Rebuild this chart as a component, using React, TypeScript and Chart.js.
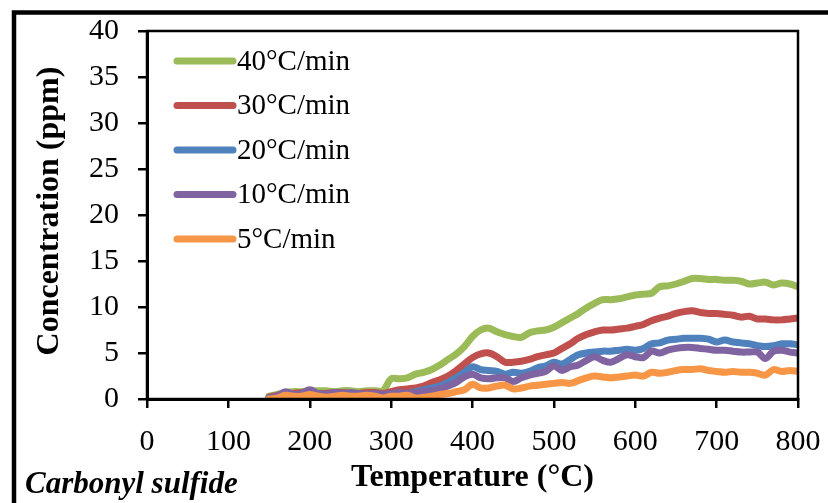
import React, { useEffect, useRef } from "react";
import { Chart, registerables } from "chart.js";

Chart.register(...registerables);

const TEMPS = [
  150, 160, 170, 180, 190, 200, 210, 220, 230, 240, 250, 260, 270, 280, 290, 300, 310, 320, 330, 340,
  350, 360, 370, 380, 390, 400, 410, 420, 430, 440, 450, 460, 470, 480, 490, 500, 510, 520, 530, 540,
  550, 560, 570, 580, 590, 600, 610, 620, 630, 640, 650, 660, 670, 680, 690, 700, 710, 720, 730, 740,
  750, 760, 770, 780, 790, 800,
];

const RATE_40 = [
  0.3, 0.5, 0.7, 0.8, 0.8, 0.9, 0.9, 0.9, 0.8, 0.9, 0.9, 0.8, 0.9, 0.9, 0.9, 2.2, 2.2, 2.3, 2.7, 2.9,
  3.2, 3.7, 4.3, 4.9, 5.7, 6.8, 7.5, 7.7, 7.3, 7.0, 6.8, 6.7, 7.2, 7.4, 7.5, 7.8, 8.3, 8.8, 9.3, 9.9,
  10.4, 10.8, 10.8, 10.9, 11.1, 11.3, 11.4, 11.5, 12.2, 12.3, 12.5, 12.8, 13.1, 13.1, 13.0, 13.0, 12.9, 12.9, 12.8, 12.5,
  12.6, 12.7, 12.4, 12.6, 12.5, 12.2,
];

const RATE_30 = [
  0.2, 0.4, 0.6, 0.6, 0.7, 0.7, 0.6, 0.6, 0.7, 0.7, 0.6, 0.6, 0.7, 0.7, 0.6, 0.8, 1.0, 1.1, 1.2, 1.4,
  1.8, 2.1, 2.5, 3.1, 3.8, 4.5, 4.9, 5.0, 4.6, 4.0, 4.0, 4.1, 4.3, 4.6, 4.8, 5.0, 5.5, 6.0, 6.6, 7.0,
  7.3, 7.5, 7.5, 7.6, 7.7, 7.9, 8.1, 8.5, 8.8, 9.0, 9.3, 9.5, 9.6, 9.4, 9.3, 9.3, 9.2, 9.1, 8.9, 9.0,
  8.7, 8.7, 8.6, 8.6, 8.7, 8.8,
];

const RATE_20 = [
  0.1, 0.2, 0.3, 0.4, 0.5, 0.4, 0.5, 0.5, 0.4, 0.5, 0.6, 0.5, 0.5, 0.4, 0.5, 0.4, 0.5, 0.6, 0.8, 1.0,
  1.2, 1.4, 1.8, 2.3, 2.9, 3.5, 3.2, 3.1, 3.0, 2.7, 2.9, 2.8, 3.0, 3.4, 3.6, 4.0, 3.8, 4.3, 4.8, 5.0,
  5.1, 5.2, 5.2, 5.3, 5.4, 5.3, 5.5, 6.0, 6.1, 6.4, 6.5, 6.6, 6.6, 6.6, 6.5, 6.2, 6.4, 6.2, 6.1, 6.0,
  5.8, 5.7, 5.8, 6.0, 6.0, 5.9,
];

const RATE_10 = [
  0.1, 0.3, 0.8, 0.5, 0.6, 1.0, 0.6, 0.5, 0.7, 0.6, 0.7, 0.6, 0.5, 0.6, 0.5, 0.6, 0.7, 0.6, 0.7, 0.8,
  0.9, 1.1, 1.4, 1.8, 2.4, 2.7, 2.3, 2.2, 2.3, 2.3, 1.9, 2.3, 2.6, 2.8, 3.0, 3.6, 3.1, 3.5, 3.7, 4.2,
  4.6, 4.2, 4.0, 4.4, 4.8, 4.6, 4.5, 5.2, 5.0, 5.3, 5.5, 5.6, 5.6, 5.5, 5.4, 5.3, 5.3, 5.2, 5.1, 5.1,
  5.1, 4.4, 5.2, 5.3, 5.1, 5.0,
];

const RATE_5 = [
  0.0, 0.1, 0.4, 0.3, 0.3, 0.5, 0.3, 0.2, 0.3, 0.4, 0.3, 0.3, 0.4, 0.3, 0.1, 0.3, 0.3, 0.4, 0.1, 0.2,
  0.3, 0.5, 0.6, 0.8, 1.0, 1.6, 1.2, 1.2, 1.4, 1.5, 1.1, 1.2, 1.4, 1.5, 1.6, 1.7, 1.8, 1.7, 2.0, 2.3,
  2.5, 2.4, 2.3, 2.4, 2.5, 2.6, 2.5, 2.9, 2.8, 2.9, 3.1, 3.2, 3.2, 3.3, 3.1, 3.0, 2.9, 3.0, 2.9, 2.9,
  2.8, 2.6, 3.2, 3.0, 3.1, 3.0,
];

const SERIES_LABELS = ["5°C/min", "10°C/min", "20°C/min", "30°C/min", "40°C/min"];
const SERIES_VALUES = [RATE_5, RATE_10, RATE_20, RATE_30, RATE_40];
const SERIES_COLORS = ["#F79646", "#8064A2", "#4F81BD", "#C0504D", "#9BBB59"];

const X_TITLE = "Temperature (°C)";
const Y_TITLE = "Concentration (ppm)";
const CORNER_LABEL = "Carbonyl sulfide";

const SERIF = '"Liberation Serif", "Times New Roman", serif';

const decorPlugin = {
  id: "decor",
  afterDraw(chart: any) {
    const ctx = chart.ctx as CanvasRenderingContext2D;
    const a = chart.chartArea;
    ctx.save();
    // plot frame
    ctx.strokeStyle = "#000";
    ctx.lineWidth = 2.5;
    ctx.strokeRect(a.left, a.top, a.right - a.left, a.bottom - a.top);
    // outer frame (cropped)
    ctx.lineWidth = 4.5;
    ctx.beginPath();
    ctx.moveTo(14, 600);
    ctx.lineTo(14, 12.5);
    ctx.lineTo(900, 12.5);
    ctx.stroke();

    // legend (reverse order)
    const n = chart.data.datasets.length;
    const lx0 = a.left + 30;
    const lx1 = a.left + 86;
    let ly = a.top + 30;
    ctx.font = `29px ${SERIF}`;
    ctx.textBaseline = "middle";
    ctx.textAlign = "left";
    for (let i = n - 1; i >= 0; i--) {
      const ds = chart.data.datasets[i];
      ctx.strokeStyle = ds.borderColor;
      ctx.lineWidth = 7;
      ctx.lineCap = "round";
      ctx.beginPath();
      ctx.moveTo(lx0, ly);
      ctx.lineTo(lx1, ly);
      ctx.stroke();
      ctx.fillStyle = "#000";
      ctx.fillText(ds.label, lx1 + 4, ly + 1);
      ly += 44.5;
    }

    // axis titles
    ctx.fillStyle = "#000";
    ctx.font = `bold 32px ${SERIF}`;
    ctx.textAlign = "center";
    ctx.textBaseline = "alphabetic";
    ctx.fillText(X_TITLE, (a.left + a.right) / 2, 486);
    ctx.save();
    ctx.translate(58, (a.top + a.bottom) / 2 - 4);
    ctx.rotate(-Math.PI / 2);
    ctx.fillText(Y_TITLE, 0, 0);
    ctx.restore();

    ctx.font = `italic bold 31px ${SERIF}`;
    ctx.textAlign = "left";
    ctx.fillText(CORNER_LABEL, 25, 493);
    ctx.restore();
  },
};

const zeroPad = (s: any) => {
  s.paddingTop = 0;
  s.paddingBottom = 0;
  s.paddingLeft = 0;
  s.paddingRight = 0;
};

export default function App() {
  const ref = useRef<HTMLCanvasElement | null>(null);
  useEffect(() => {
    if (!ref.current) return;
    const datasets = SERIES_LABELS.map((label, i) => ({
      label,
      data: TEMPS.map((t, j) => ({ x: t, y: SERIES_VALUES[i][j] })),
      borderColor: SERIES_COLORS[i],
      backgroundColor: SERIES_COLORS[i],
      borderWidth: 7,
      pointRadius: 0,
      tension: 0.35,
      borderCapStyle: "round" as const,
      borderJoinStyle: "round" as const,
      fill: false,
    }));
    const chart = new Chart(ref.current, {
      type: "line",
      data: { datasets },
      options: {
        animation: false,
        responsive: false,
        devicePixelRatio: 1,
        layout: { padding: { left: 0, top: 31, right: 30, bottom: 0 } },
        plugins: { legend: { display: false }, tooltip: { enabled: false } },
        scales: {
          x: {
            type: "linear",
            min: 0,
            max: 800,
            afterFit: (s: any) => {
              s.height = 104;
              zeroPad(s);
            },
            ticks: {
              stepSize: 100,
              color: "#000",
              font: { family: SERIF, size: 30 },
              padding: 16,
              maxRotation: 0,
            },
            grid: {
              display: true,
              drawOnChartArea: false,
              drawTicks: true,
              tickLength: 9,
              color: "#000",
              lineWidth: 2.5,
            },
            border: { display: true, color: "#000", width: 3 },
          },
          y: {
            type: "linear",
            min: 0,
            max: 40,
            afterFit: (s: any) => {
              s.width = 147;
              zeroPad(s);
            },
            ticks: {
              stepSize: 5,
              color: "#000",
              font: { family: SERIF, size: 30 },
              padding: 19,
            },
            grid: {
              display: true,
              drawOnChartArea: false,
              drawTicks: true,
              tickLength: 9,
              color: "#000",
              lineWidth: 2.5,
            },
            border: { display: true, color: "#000", width: 3 },
          },
        },
      },
      plugins: [decorPlugin],
    });
    return () => chart.destroy();
  }, []);
  return (
    <div style={{ position: "absolute", left: 0, top: 0, width: 828, height: 503, background: "#fff" }}>
      <canvas ref={ref} width={828} height={503} style={{ display: "block" }} />
    </div>
  );
}
